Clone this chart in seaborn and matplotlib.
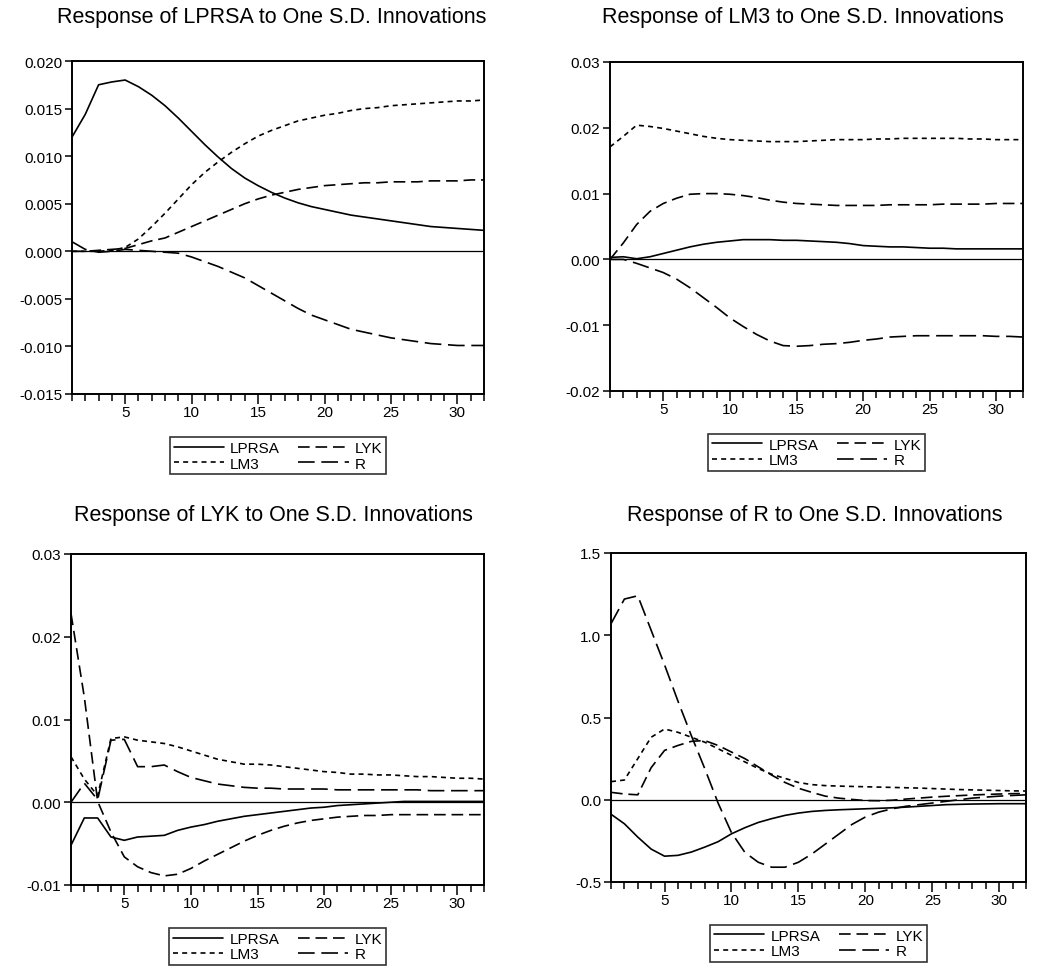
import numpy as np
import pandas as pd
import matplotlib
matplotlib.use('Agg')
import matplotlib.pyplot as plt
import seaborn as sns
from matplotlib.lines import Line2D
from matplotlib.ticker import MultipleLocator, FormatStrFormatter

periods = list(range(1, 33))
shock_order = ['LPRSA', 'LM3', 'LYK', 'R']

# ---- Response of LPRSA ----
lprsa_LPRSA = [0.0120, 0.0144, 0.0175, 0.0178, 0.0180, 0.0173, 0.0164, 0.0153, 0.0140, 0.0126, 0.0112, 0.0099,
               0.0087, 0.0077, 0.0069, 0.0062, 0.0056, 0.0051, 0.0047, 0.0044, 0.0041, 0.0038, 0.0036, 0.0034,
               0.0032, 0.0030, 0.0028, 0.0026, 0.0025, 0.0024, 0.0023, 0.0022]
lprsa_LM3 = [0.0000, 0.0000, 0.0000, 0.0001, 0.0004, 0.0013, 0.0026, 0.0040, 0.0055, 0.0070, 0.0083, 0.0094,
             0.0104, 0.0113, 0.0121, 0.0127, 0.0132, 0.0137, 0.0140, 0.0143, 0.0145, 0.0148, 0.0150, 0.0151,
             0.0153, 0.0154, 0.0155, 0.0156, 0.0157, 0.0158, 0.0158, 0.0159]
lprsa_LYK = [0.0000, 0.0000, 0.0001, 0.0002, 0.0003, 0.0007, 0.0011, 0.0014, 0.0020, 0.0026, 0.0032, 0.0038,
             0.0044, 0.0050, 0.0055, 0.0059, 0.0062, 0.0065, 0.0067, 0.0069, 0.0070, 0.0071, 0.0072, 0.0072,
             0.0073, 0.0073, 0.0073, 0.0074, 0.0074, 0.0074, 0.0075, 0.0075]
lprsa_R = [0.0010, 0.0002, -0.0001, 0.0000, 0.0002, 0.0001, 0.0000, -0.0001, -0.0002, -0.0006, -0.0011, -0.0016,
           -0.0022, -0.0028, -0.0036, -0.0044, -0.0052, -0.0060, -0.0067, -0.0072, -0.0077, -0.0082, -0.0085,
           -0.0088, -0.0091, -0.0093, -0.0095, -0.0097, -0.0098, -0.0099, -0.0099, -0.0099]

# ---- Response of LM3 ----
lm3_LPRSA = [0.0003, 0.0004, 0.0001, 0.0004, 0.0009, 0.0014, 0.0019, 0.0023, 0.0026, 0.0028, 0.0030, 0.0030,
             0.0030, 0.0029, 0.0029, 0.0028, 0.0027, 0.0026, 0.0024, 0.0021, 0.0020, 0.0019, 0.0019, 0.0018,
             0.0017, 0.0017, 0.0016, 0.0016, 0.0016, 0.0016, 0.0016, 0.0016]
lm3_LM3 = [0.0171, 0.0187, 0.0204, 0.0202, 0.0199, 0.0195, 0.0191, 0.0187, 0.0184, 0.0182, 0.0181, 0.0180,
           0.0179, 0.0179, 0.0179, 0.0180, 0.0181, 0.0182, 0.0182, 0.0182, 0.0183, 0.0183, 0.0184, 0.0184,
           0.0184, 0.0184, 0.0184, 0.0183, 0.0183, 0.0182, 0.0182, 0.0182]
lm3_LYK = [0.0000, 0.0025, 0.0053, 0.0073, 0.0085, 0.0093, 0.0099, 0.0100, 0.0100, 0.0099, 0.0097, 0.0094,
           0.0090, 0.0087, 0.0085, 0.0084, 0.0083, 0.0082, 0.0082, 0.0082, 0.0082, 0.0083, 0.0083, 0.0083,
           0.0083, 0.0084, 0.0084, 0.0084, 0.0084, 0.0085, 0.0085, 0.0085]
lm3_R = [0.0000, 0.0000, -0.0006, -0.0013, -0.0020, -0.0030, -0.0043, -0.0058, -0.0073, -0.0089, -0.0102, -0.0114,
         -0.0124, -0.0131, -0.0132, -0.0131, -0.0129, -0.0128, -0.0126, -0.0123, -0.0121, -0.0118, -0.0117,
         -0.0116, -0.0116, -0.0116, -0.0116, -0.0116, -0.0116, -0.0117, -0.0117, -0.0118]

# ---- Response of LYK ----
lyk_LPRSA = [-0.0052, -0.0019, -0.0019, -0.0042, -0.0046, -0.0042, -0.0041, -0.0040, -0.0034, -0.0030, -0.0027,
             -0.0023, -0.0020, -0.0017, -0.0015, -0.0013, -0.0011, -0.0009, -0.0007, -0.0006, -0.0004, -0.0003,
             -0.0002, -0.0001, 0.0000, 0.0001, 0.0001, 0.0001, 0.0001, 0.0001, 0.0001, 0.0001]
lyk_LM3 = [0.0055, 0.0028, 0.0008, 0.0077, 0.0079, 0.0075, 0.0073, 0.0071, 0.0067, 0.0062, 0.0057, 0.0052,
           0.0049, 0.0046, 0.0046, 0.0045, 0.0043, 0.0041, 0.0039, 0.0037, 0.0036, 0.0034, 0.0034, 0.0033,
           0.0033, 0.0032, 0.0031, 0.0031, 0.0030, 0.0029, 0.0029, 0.0028]
lyk_LYK = [0.0228, 0.0127, 0.0001, -0.0036, -0.0066, -0.0078, -0.0085, -0.0089, -0.0087, -0.0080, -0.0071,
           -0.0063, -0.0055, -0.0047, -0.0040, -0.0034, -0.0029, -0.0025, -0.0022, -0.0020, -0.0018, -0.0017,
           -0.0016, -0.0016, -0.0015, -0.0015, -0.0015, -0.0015, -0.0015, -0.0015, -0.0015, -0.0015]
lyk_R = [0.0000, 0.0023, 0.0003, 0.0075, 0.0076, 0.0043, 0.0043, 0.0045, 0.0037, 0.0030, 0.0026, 0.0022,
         0.0020, 0.0018, 0.0017, 0.0017, 0.0016, 0.0016, 0.0016, 0.0016, 0.0015, 0.0015, 0.0015, 0.0015,
         0.0015, 0.0015, 0.0015, 0.0014, 0.0014, 0.0014, 0.0014, 0.0014]

# ---- Response of R ----
r_LPRSA = [-0.088, -0.146, -0.227, -0.300, -0.343, -0.338, -0.318, -0.288, -0.255, -0.207, -0.170, -0.138,
           -0.115, -0.095, -0.081, -0.071, -0.065, -0.061, -0.058, -0.055, -0.052, -0.049, -0.045, -0.040,
           -0.035, -0.030, -0.028, -0.026, -0.025, -0.024, -0.024, -0.024]
r_LM3 = [0.11, 0.12, 0.25, 0.38, 0.43, 0.41, 0.38, 0.35, 0.31, 0.27, 0.23, 0.19, 0.155, 0.13, 0.105, 0.092,
         0.086, 0.083, 0.081, 0.079, 0.077, 0.075, 0.073, 0.071, 0.068, 0.065, 0.062, 0.060, 0.058, 0.056,
         0.054, 0.053]
r_LYK = [0.045, 0.035, 0.030, 0.195, 0.30, 0.33, 0.355, 0.36, 0.33, 0.29, 0.25, 0.20, 0.15, 0.105, 0.070,
         0.045, 0.022, 0.010, 0.002, -0.005, -0.006, -0.003, 0.004, 0.010, 0.016, 0.021, 0.025, 0.029, 0.032,
         0.035, 0.037, 0.038]
r_R = [1.07, 1.22, 1.24, 1.03, 0.82, 0.60, 0.39, 0.19, -0.02, -0.20, -0.32, -0.38, -0.41, -0.41, -0.38, -0.33,
       -0.27, -0.21, -0.15, -0.105, -0.075, -0.055, -0.040, -0.030, -0.020, -0.010, 0.000, 0.010, 0.016, 0.022,
       0.026, 0.030]

titles = ['Response of LPRSA to One S.D. Innovations',
          'Response of LM3 to One S.D. Innovations',
          'Response of LYK to One S.D. Innovations',
          'Response of R to One S.D. Innovations']

sns.set_style('ticks')
plt.rcParams['font.family'] = ['Liberation Sans', 'DejaVu Sans']
plt.rcParams['text.color'] = 'black'
plt.rcParams['xtick.color'] = 'black'
plt.rcParams['ytick.color'] = 'black'
plt.rcParams['axes.labelcolor'] = 'black'

W, H = 1038, 979
fig = plt.figure(figsize=(W / 100, H / 100), dpi=100)

dash_map = {'LPRSA': '', 'LM3': (3, 2.5), 'LYK': (7, 3.5), 'R': (10, 4)}
ls_map = {k: ('-' if v == '' else (0, v)) for k, v in dash_map.items()}

panels = [
    dict(data={'LPRSA': lprsa_LPRSA, 'LM3': lprsa_LM3, 'LYK': lprsa_LYK, 'R': lprsa_R},
         px=(72, 62, 484, 395), ylim=(-0.015, 0.020), step=0.005, fmt='%.3f', tpos=(272, 18)),
    dict(data={'LPRSA': lm3_LPRSA, 'LM3': lm3_LM3, 'LYK': lm3_LYK, 'R': lm3_R},
         px=(610, 63, 1023, 392), ylim=(-0.02, 0.03), step=0.01, fmt='%.2f', tpos=(803, 18)),
    dict(data={'LPRSA': lyk_LPRSA, 'LM3': lyk_LM3, 'LYK': lyk_LYK, 'R': lyk_R},
         px=(71, 555, 484, 886), ylim=(-0.01, 0.03), step=0.01, fmt='%.2f', tpos=(273, 516)),
    dict(data={'LPRSA': r_LPRSA, 'LM3': r_LM3, 'LYK': r_LYK, 'R': r_R},
         px=(611, 554, 1026, 883), ylim=(-0.5, 1.5), step=0.5, fmt='%.1f', tpos=(815, 516)),
]

for title, p in zip(titles, panels):
    x0, y0, x1, y1 = p['px']
    ax = fig.add_axes([x0 / W, 1 - y1 / H, (x1 - x0) / W, (y1 - y0) / H])
    df = pd.DataFrame({
        'period': periods * 4,
        'value': sum((p['data'][s] for s in shock_order), []),
        'shock': sum(([s] * len(periods) for s in shock_order), []),
    })
    ax.axhline(0, color='black', lw=0.9, zorder=1)
    sns.lineplot(data=df, x='period', y='value', style='shock', style_order=shock_order,
                 dashes=dash_map, color='black', linewidth=1.2, ax=ax, legend=False)
    ax.set_xlim(1, 32)
    ax.set_ylim(*p['ylim'])
    ax.xaxis.set_major_locator(MultipleLocator(5))
    ax.xaxis.set_minor_locator(MultipleLocator(1))
    ax.yaxis.set_major_locator(MultipleLocator(p['step']))
    ax.yaxis.set_major_formatter(FormatStrFormatter(p['fmt']))
    ax.set_xlabel('')
    ax.set_ylabel('')
    ax.tick_params(axis='x', which='major', direction='out', length=7, width=1.1, labelsize=11, pad=1)
    ax.tick_params(axis='x', which='minor', direction='out', length=5, width=1.1)
    ax.tick_params(axis='y', which='major', direction='out', length=5, width=1.1, labelsize=11, pad=2)
    for sp in ax.spines.values():
        sp.set_visible(True)
        sp.set_linewidth(1.4)
        sp.set_color('black')
    handles = [Line2D([], [], color='black', lw=1.2, linestyle=ls_map[s]) for s in shock_order]
    leg = ax.legend(handles, shock_order, ncol=2, loc='upper center', bbox_to_anchor=(0.5, -0.13),
                    frameon=True, fancybox=False, edgecolor='black', fontsize=11,
                    handlelength=3.3, columnspacing=1.2, borderpad=0.25, labelspacing=0.1,
                    handletextpad=0.4, borderaxespad=0)
    leg.get_frame().set_linewidth(1.2)
    fig.text(p['tpos'][0] / W, 1 - p['tpos'][1] / H, title, ha='center', va='center', fontsize=15.5)

fig.savefig('out.png', dpi=100, facecolor='white')
